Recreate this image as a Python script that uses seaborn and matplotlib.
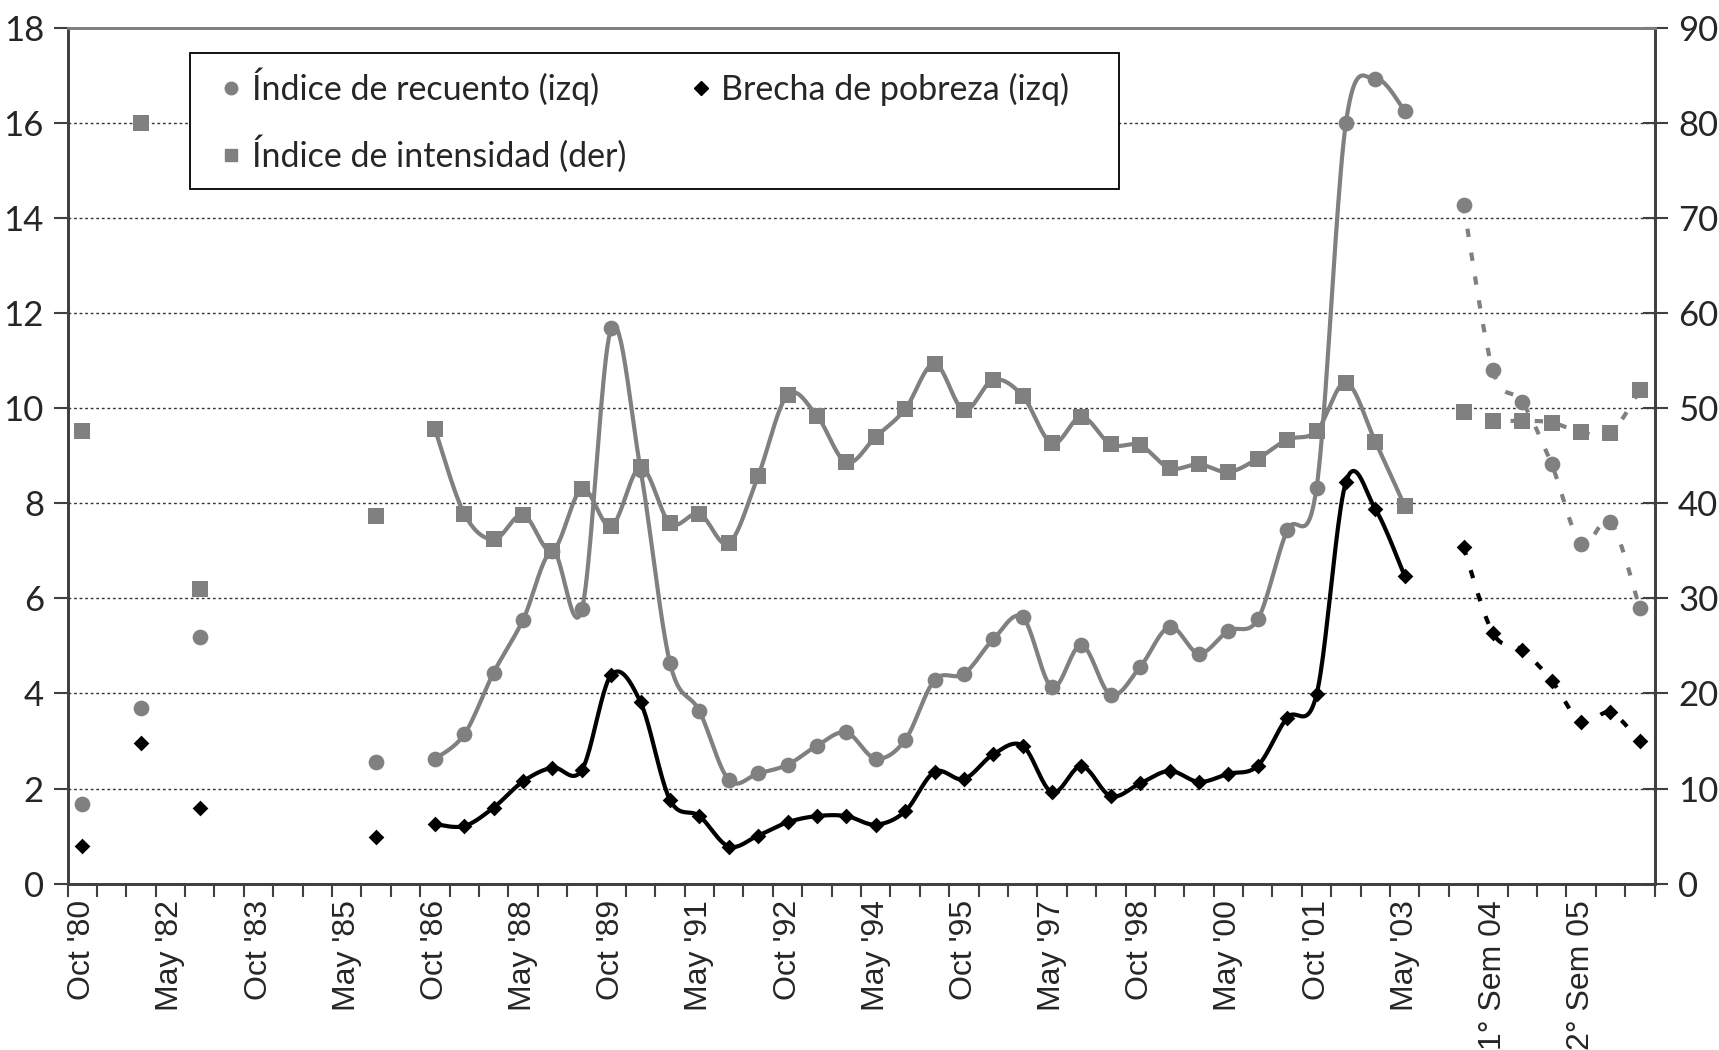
import numpy as np
import matplotlib
matplotlib.use("Agg")
import matplotlib.pyplot as plt
import seaborn as sns
from matplotlib.lines import Line2D
from matplotlib.patches import Rectangle

N = np.nan

# periodos semestrales (posicion en el eje de categorias)
periodos = np.arange(54)
etiquetas = ["Oct '80", "May '82", "Oct '83", "May '85", "Oct '86", "May '88",
             "Oct '89", "May '91", "Oct '92", "May '94", "Oct '95", "May '97",
             "Oct '98", "May '00", "Oct '01", "May '03", "1° Sem 04", "2° Sem 05"]

# Indice de recuento (izq)
recuento = [1.67, N, 3.70, N, 5.19, N, N, N, N, N, 2.55, N,
            2.62, 3.14, 4.44, 5.55, 7.00, 5.77, 11.68, 8.70, 4.64, 3.63,
            2.18, 2.32, 2.50, 2.90, 3.18, 2.63, 3.02, 4.28, 4.41, 5.14,
            5.60, 4.13, 5.02, 3.97, 4.56, 5.40, 4.84, 5.32, 5.56, 7.43,
            8.33, 16.01, 16.93, 16.26,
            N, 14.28, 10.80, 10.13, 8.82, 7.15, 7.61, 5.79]

# Brecha de pobreza (izq)
brecha = [0.79, N, 2.96, N, 1.60, N, N, N, N, N, 0.98, N,
          1.25, 1.21, 1.60, 2.15, 2.44, 2.39, 4.39, 3.81, 1.76, 1.42,
          0.78, 1.01, 1.29, 1.42, 1.42, 1.24, 1.52, 2.35, 2.20, 2.72,
          2.90, 1.92, 2.47, 1.84, 2.11, 2.37, 2.14, 2.31, 2.48, 3.49,
          3.98, 8.45, 7.88, 6.47,
          N, 7.08, 5.27, 4.91, 4.27, 3.40, 3.60, 2.99]

# Indice de intensidad (der)
intensidad = [47.6, N, 80.0, N, 31.0, N, N, N, N, N, 38.7, N,
              47.8, 38.9, 36.2, 38.8, 35.0, 41.5, 37.6, 43.8, 37.9, 38.9,
              35.8, 42.9, 51.4, 49.2, 44.3, 47.0, 49.9, 54.7, 49.8, 53.0,
              51.3, 46.3, 49.1, 46.2, 46.1, 43.7, 44.1, 43.3, 44.7, 46.7,
              47.6, 52.7, 46.5, 39.7,
              N, 49.6, 48.7, 48.7, 48.5, 47.5, 47.4, 51.9]

tramo_continuo = slice(12, 46)
tramo_punteado = slice(47, 54)

GRIS = "#808080"


def suavizar(x, y, n=24):
    # curva suavizada tipo Excel (bezier catmull-rom)
    p = np.column_stack([x, y]).astype(float)
    out = [p[:1]]
    t = np.linspace(0, 1, n)[1:, None]
    for i in range(len(p) - 1):
        p0, p1, p2 = p[max(i - 1, 0)], p[i], p[i + 1]
        p3 = p[min(i + 2, len(p) - 1)]
        c1 = p1 + (p2 - p0) / 6
        c2 = p2 - (p3 - p1) / 6
        b = (1 - t) ** 3 * p1 + 3 * (1 - t) ** 2 * t * c1 + 3 * (1 - t) * t ** 2 * c2 + t ** 3 * p2
        out.append(b)
    out = np.vstack(out)
    return out[:, 0], out[:, 1]


sns.set_style("white")
plt.rcParams["font.family"] = ["Lato", "DejaVu Sans"]

fig = plt.figure(figsize=(17.19, 10.5), dpi=100)
ax = fig.add_axes([0.0393, 0.1585, 0.9232, 0.8148])
ax2 = ax.twinx()

series = [(ax, recuento, GRIS, "o", 128), (ax, brecha, "black", "D", 64), (ax2, intensidad, GRIS, "s", 125)]
for eje, valores, color, marca, tam in series:
    v = np.array(valores, dtype=float)
    for tramo, estilo in [(tramo_continuo, "-"), (tramo_punteado, (0, (2.0, 3.8)))]:
        sx, sy = suavizar(periodos[tramo], v[tramo])
        sns.lineplot(x=sx, y=sy, ax=eje, color=color, lw=3.0, linestyle=estilo,
                     sort=False, estimator=None, zorder=2)
    ok = ~np.isnan(v)
    sns.scatterplot(x=periodos[ok], y=v[ok], ax=eje, marker=marca, s=tam, color=color,
                    linewidth=0, zorder=3)

ax.set_xlim(-0.5, 53.5)
ax.set_ylim(0, 18)
ax2.set_ylim(0, 90)
ax.set_yticks(np.arange(0, 19, 2))
ax2.set_yticks(np.arange(0, 91, 10))
ax.grid(axis="y", linestyle=(0, (2, 2)), color="#333333", lw=1.0)
ax.grid(axis="x", visible=False)
ax2.grid(False)

ax.set_xticks(periodos[::3])
ax.set_xticklabels(etiquetas, rotation=90, fontsize=23, family="Liberation Sans")
ax.set_xticks(np.arange(-0.5, 54, 1), minor=True)
ax.tick_params(axis="x", which="major", length=0, pad=12)
ax.tick_params(axis="x", which="minor", direction="out", length=9, width=1.5, color="#404040", bottom=True)
ax.tick_params(axis="y", direction="out", length=10, width=1.5, color="#404040", labelsize=25, pad=7)
ax2.tick_params(axis="y", direction="inout", length=18, width=1.5, color="#404040", labelsize=25, pad=8)

for eje in (ax, ax2):
    for lado in ["left", "right", "bottom"]:
        eje.spines[lado].set_color("#404040")
        eje.spines[lado].set_linewidth(2)
    eje.spines["top"].set_color(GRIS)
    eje.spines["top"].set_linewidth(2)
    eje.set_xlabel("")
    eje.set_ylabel("")

# recuadro de la leyenda
ax2.add_patch(Rectangle((0.0772, 0.8118), 0.5854, 0.159, transform=ax2.transAxes,
                        facecolor="white", edgecolor="black", lw=1.3, zorder=4))

manejadores = [
    Line2D([], [], marker="o", color=GRIS, linestyle="none", markersize=9, label="Índice de recuento (izq)"),
    Line2D([], [], marker="s", color=GRIS, linestyle="none", markersize=9, label="Índice de intensidad (der)"),
    Line2D([], [], marker="D", color="black", linestyle="none", markersize=7, label="Brecha de pobreza (izq)"),
]
leg = ax2.legend(handles=manejadores, ncol=2, loc="upper left",
                 bbox_to_anchor=(0.0967, 0.9544), fontsize=24.5, frameon=False,
                 borderaxespad=0, borderpad=0, handlelength=0.6,
                 handletextpad=0.3, labelspacing=0.88, columnspacing=1.9)
leg.set_zorder(5)

fig.savefig("out.png", dpi=100)
